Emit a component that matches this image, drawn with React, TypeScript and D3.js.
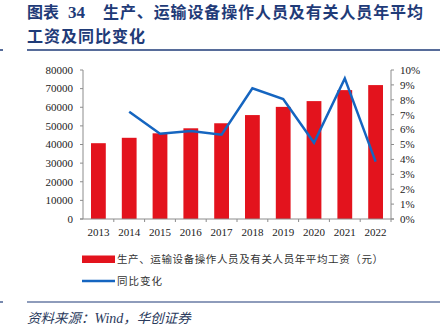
import React from "react";
import * as d3 from "d3";

const years = ["2013", "2014", "2015", "2016", "2017", "2018", "2019", "2020", "2021", "2022"];
const wages = [40700, 43600, 46000, 48700, 51400, 55800, 60200, 63300, 69200, 71900];
const yoyYears = ["2014", "2015", "2016", "2017", "2018", "2019", "2020", "2021", "2022"];
const yoy = [7.2, 5.72, 5.9, 5.66, 8.77, 8.05, 5.12, 9.44, 3.85];
const leftTicks = [0, 10000, 20000, 30000, 40000, 50000, 60000, 70000, 80000];
const rightTicks = [0, 1, 2, 3, 4, 5, 6, 7, 8, 9, 10];

const W = 447, H = 328;
const L = 83, R = 391, T = 70, B = 219;
const RED = "#E3131D";
const BLUE = "#1565C0";
const NAVY = "#1F3B78";
const AX = "#8c8c8c";
const SERIF = "'Liberation Serif', 'Times New Roman', serif";
const CJK = "'Noto Sans CJK SC', sans-serif";

export default function App() {
  const x = d3.scaleBand<string>().domain(years).range([L, R]).paddingInner(0.52).paddingOuter(0.26);
  const xo = d3.scaleBand<string>().domain(years).range([L, R]);
  const yL = d3.scaleLinear().domain([0, 80000]).range([B, T]);
  const yR = d3.scaleLinear().domain([0, 10]).range([B, T]);
  const line = d3
    .line<number>()
    .x((_, i) => (xo(yoyYears[i]) as number) + xo.bandwidth() / 2)
    .y((d) => yR(d));

  return (
    <svg width={W} height={H} style={{ position: "absolute", left: 0, top: 0, background: "#fff" }}>
      {/* Title */}
      <g fill={NAVY} fontFamily={CJK} fontWeight="bold" fontSize={16}>
        <text x={27} y={18}>图表</text>
        <text x={68} y={18} fontFamily={SERIF} fontSize={17}>34</text>
        <text x={103} y={18} textLength={320} lengthAdjust="spacing">生产、运输设备操作人员及有关人员年平均</text>
        <text x={27} y={42} textLength={118} lengthAdjust="spacing">工资及同比变化</text>
      </g>
      <line x1={27} x2={440} y1={50} y2={50} stroke={NAVY} strokeWidth={1.5} />
      <line x1={0} x2={3} y1={50} y2={50} stroke={NAVY} strokeWidth={1.5} />

      {/* Bars */}
      {years.map((yr, i) => (
        <rect key={yr} x={x(yr)} y={yL(wages[i])} width={x.bandwidth()} height={B - yL(wages[i])} fill={RED} />
      ))}

      {/* Axes */}
      <g stroke={AX} strokeWidth={1}>
        <line x1={L} x2={L} y1={T} y2={B} />
        <line x1={R} x2={R} y1={T} y2={B} />
        <line x1={L - 3} x2={R + 3} y1={B} y2={B} />
        {leftTicks.map((t) => (
          <line key={"l" + t} x1={L - 3} x2={L} y1={yL(t)} y2={yL(t)} />
        ))}
        {rightTicks.map((t) => (
          <line key={"r" + t} x1={R} x2={R + 3} y1={yR(t)} y2={yR(t)} />
        ))}
        {years.map((yr) => (
          <line key={"x" + yr} x1={(xo(yr) as number) + xo.bandwidth()} x2={(xo(yr) as number) + xo.bandwidth()} y1={B} y2={B + 3} />
        ))}
      </g>
      <g fontFamily={SERIF} fontSize={11} fill="#222">
        {leftTicks.map((t) => (
          <text key={"lt" + t} x={73} y={yL(t) + 3.8} textAnchor="end">{t}</text>
        ))}
        {rightTicks.map((t) => (
          <text key={"rt" + t} x={400} y={yR(t) + 3.8}>{t + "%"}</text>
        ))}
        {years.map((yr) => (
          <text key={"xt" + yr} x={(xo(yr) as number) + xo.bandwidth() / 2} y={236} textAnchor="middle">{yr}</text>
        ))}
      </g>

      {/* Line */}
      <path d={line(yoy) || ""} fill="none" stroke={BLUE} strokeWidth={2.5} strokeLinejoin="miter" />

      {/* Legend */}
      <rect x={82} y={255.5} width={33} height={7.5} fill={RED} />
      <text x={117} y={263} fontFamily={CJK} fontSize={10.5} fill="#333" textLength={266} lengthAdjust="spacing">生产、运输设备操作人员及有关人员年平均工资（元）</text>
      <line x1={82} x2={115} y1={281} y2={281} stroke={BLUE} strokeWidth={2.5} />
      <text x={117} y={285} fontFamily={CJK} fontSize={10.5} fill="#333" textLength={45} lengthAdjust="spacing">同比变化</text>

      {/* Footer */}
      <line x1={27} x2={440} y1={302} y2={302} stroke={NAVY} strokeWidth={1.2} />
      <line x1={0} x2={3} y1={302} y2={302} stroke={NAVY} strokeWidth={1.2} />
      <text x={27} y={323} fontFamily={CJK} fontStyle="italic" fontSize={13.5} fill="#2a3a5c">
        资料来源：<tspan fontFamily={SERIF} fontSize={14}>Wind</tspan>，华创证券
      </text>
    </svg>
  );
}
